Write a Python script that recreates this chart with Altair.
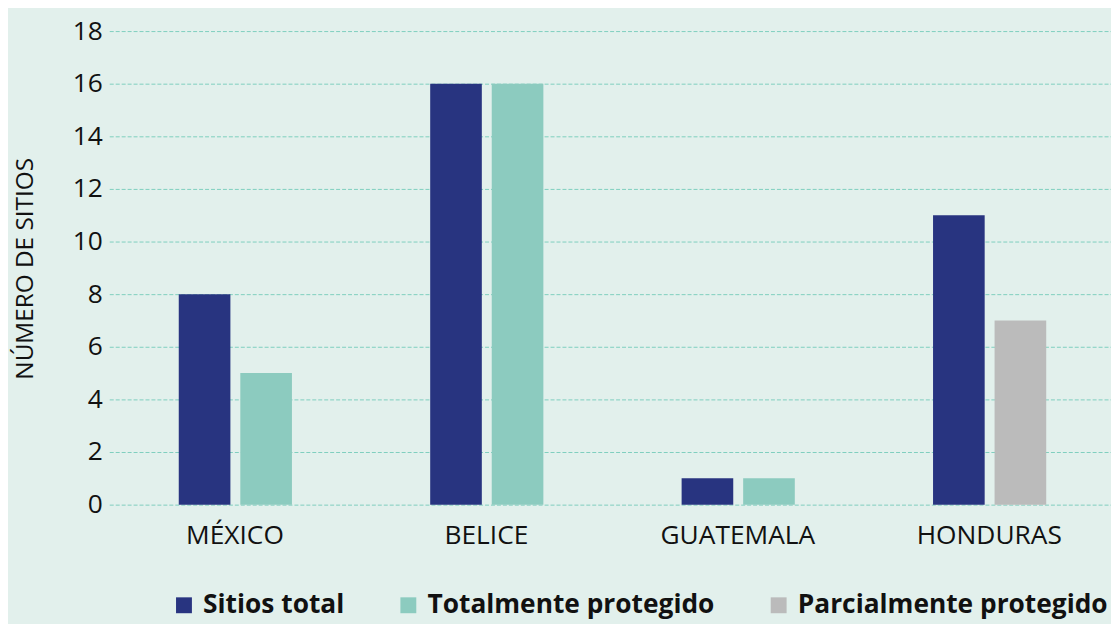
import altair as alt
import pandas as pd

countries = ["MÉXICO", "BELICE", "GUATEMALA", "HONDURAS"]
sitios_total = [8, 16, 1, 11]
second_series = ["Totalmente protegido", "Totalmente protegido", "Totalmente protegido", "Parcialmente protegido"]
second_values = [5, 16, 1, 7]
series_order = ["Sitios total", "Totalmente protegido", "Parcialmente protegido"]
series_colors = ["#283480", "#8ccbbf", "#bbbbbb"]
y_ticks = [0, 2, 4, 6, 8, 10, 12, 14, 16, 18]

rows = []
for c, t, s, v in zip(countries, sitios_total, second_series, second_values):
    rows.append({"country": c, "series": "Sitios total", "slot": 0, "value": t})
    rows.append({"country": c, "series": s, "slot": 1, "value": v})
df = pd.DataFrame(rows)

FONT = "Open Sans"

chart = alt.Chart(df).mark_bar().encode(
    x=alt.X("country:N", sort=countries,
            scale=alt.Scale(range=[-35, 978], paddingInner=0, paddingOuter=0),
            axis=alt.Axis(title=None, labelAngle=0, ticks=False, domain=False, grid=False,
                          labelFontSize=26.5, labelPadding=18, labelColor="#111111", labelFont=FONT)),
    xOffset=alt.XOffset("slot:N", scale=alt.Scale(range=[70, 184], paddingInner=0.161, paddingOuter=0)),
    y=alt.Y("value:Q", scale=alt.Scale(domain=[0, 18], nice=False),
            axis=alt.Axis(values=y_ticks, title="NÚMERO DE SITIOS", ticks=False, domain=False,
                          grid=True, gridDash=[4, 2], gridColor="#7fcfbe", gridWidth=1,
                          labelFontSize=26.5, labelPadding=42, labelColor="#111111", labelFont=FONT,
                          titleFontSize=24.5, titleFontWeight="normal", titleColor="#111111", titleFont=FONT,
                          titleX=-119, titleY=239, titleAngle=270, titleAlign="center",
                          titleBaseline="middle")),
    color=alt.Color("series:N",
                    scale=alt.Scale(domain=series_order, range=series_colors),
                    legend=alt.Legend(title=None, orient="none", direction="horizontal",
                                      legendX=27, legendY=565,
                                      symbolType="square", symbolSize=256, symbolStrokeWidth=0,
                                      labelOffset=6,
                                      labelFontSize=26.5, labelFontWeight="bold", labelFont=FONT,
                                      labelColor="#111111", columnPadding=51, labelLimit=500,
                                      symbolOpacity=1))
).properties(
    width=974,
    height=477,
    background="#e2f0ec",
    padding={"left": 137, "top": 21, "right": 0, "bottom": 118},
    autosize=alt.AutoSizeParams(type="none"),
).configure_view(stroke=None)

chart.save("out.html", embed_options={"renderer": "svg", "actions": False})
